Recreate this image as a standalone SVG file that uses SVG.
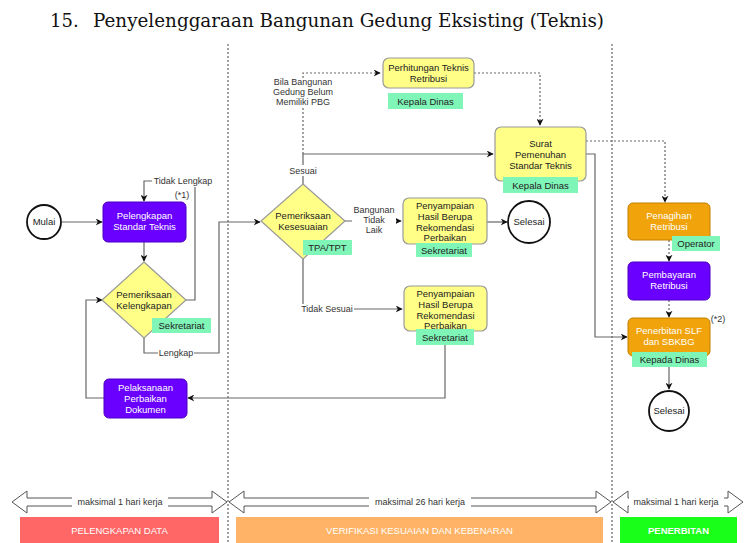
<svg xmlns="http://www.w3.org/2000/svg" width="744" height="543" viewBox="0 0 744 543">
<defs>
<marker id="ah" viewBox="0 0 10 10" refX="9" refY="5" markerWidth="7" markerHeight="7" orient="auto" markerUnits="userSpaceOnUse"><path d="M0,0 L10,5 L0,10 L3,5 Z" fill="#111"/></marker>
<style>
.t{font-family:"Liberation Sans",Arial,sans-serif;font-size:9.5px;text-anchor:middle;fill:#222}
.w{fill:#fff}
.lbl{font-family:"Liberation Sans",Arial,sans-serif;font-size:9px;text-anchor:middle;fill:#333}
.c{fill:none;stroke:#666;stroke-width:1.2}
.d{fill:none;stroke:#666;stroke-width:1.2;stroke-dasharray:2,2}
.sep{fill:none;stroke:#444;stroke-width:1;stroke-dasharray:2,2}
.y{fill:#ffff88;stroke:#999;stroke-width:1.2}
.p{fill:#6a00ff;stroke:#4b00c0;stroke-width:1}
.o{fill:#f0a30a;stroke:#c47f00;stroke-width:1}
.g{fill:#80f5b8}
.circ{fill:#fff;stroke:#111;stroke-width:1.8}
.barr{fill:#fff;stroke:#555;stroke-width:1}
.bt{font-family:"Liberation Sans",Arial,sans-serif;font-size:9.5px;text-anchor:middle;fill:#fff}
.ttl{font-family:"DejaVu Serif","Liberation Serif",serif;font-size:18px;fill:#111}
</style>
</defs>
<rect width="744" height="543" fill="#fff"/>
<text class="ttl" x="50" y="27">15.</text>
<text class="ttl" x="93" y="27" textLength="511" lengthAdjust="spacingAndGlyphs">Penyelenggaraan Bangunan Gedung Eksisting (Teknis)</text>
<g id="separators">
<line class="sep" x1="228" y1="44" x2="228" y2="543"/>
<line class="sep" x1="612" y1="44" x2="612" y2="543"/>
</g>
<g id="connectors">
<line class="c" x1="62" y1="222" x2="102" y2="222" marker-end="url(#ah)"/>
<line class="c" x1="144" y1="242" x2="144" y2="261" marker-end="url(#ah)"/>
<path class="c" d="M186,300 H195 V181 H144 V201" marker-end="url(#ah)"/>
<path class="c" d="M144,338 V353 H219 V222 H260" marker-end="url(#ah)"/>
<path class="c" d="M104,398 H86 V300 H102" marker-end="url(#ah)"/>
<path class="c" d="M303,184 V154 H493" marker-end="url(#ah)"/>
<path class="d" d="M303,154 V73 H380" marker-end="url(#ah)"/>
<path class="d" d="M474,73 H540 V125" marker-end="url(#ah)"/>
<path class="d" d="M586,141 H665 V202" marker-end="url(#ah)"/>
<path class="c" d="M586,154 H595 V337 H627" marker-end="url(#ah)"/>
<line class="c" x1="344" y1="221" x2="401" y2="221" marker-end="url(#ah)"/>
<line class="c" x1="487" y1="222" x2="507" y2="222" marker-end="url(#ah)"/>
<path class="c" d="M303,259 V309 H402" marker-end="url(#ah)"/>
<path class="c" d="M445,345 V398 H188" marker-end="url(#ah)"/>
<line class="d" x1="669" y1="240" x2="669" y2="261" marker-end="url(#ah)"/>
<line class="d" x1="669" y1="300" x2="669" y2="317" marker-end="url(#ah)"/>
<line class="c" x1="669" y1="356" x2="669" y2="389" marker-end="url(#ah)"/>
<rect x="152" y="176" width="62" height="11" fill="#fff"/>
<text class="lbl" x="183" y="184">Tidak Lengkap</text>
<rect x="158" y="348" width="36" height="11" fill="#fff"/>
<text class="lbl" x="176" y="356">Lengkap</text>
<rect x="268" y="78" width="70" height="30" fill="#fff"/>
<text class="lbl" x="303" y="85">Bila Bangunan</text>
<text class="lbl" x="303" y="95">Gedung Belum</text>
<text class="lbl" x="303" y="105">Memiliki PBG</text>
<rect x="288" y="165" width="30" height="11" fill="#fff"/>
<text class="lbl" x="303" y="174">Sesuai</text>
<rect x="352" y="204" width="44" height="31" fill="#fff"/>
<text class="lbl" x="374" y="213">Bangunan</text>
<text class="lbl" x="374" y="223">Tidak</text>
<text class="lbl" x="374" y="233">Laik</text>
<rect x="300" y="304" width="54" height="11" fill="#fff"/>
<text class="lbl" x="327" y="312">Tidak Sesuai</text>
</g>
<g id="mulai"><circle class="circ" cx="44" cy="222" r="17"/><text class="t" x="44" y="225">Mulai</text></g>
<g id="pelengkapan"><rect class="p" x="103" y="202" width="83" height="40" rx="5"/><text class="t w" x="144.5" y="219">Pelengkapan</text><text class="t w" x="144.5" y="230">Standar Teknis</text><text class="lbl" x="182" y="198" fill="#222">(*1)</text></g>
<g id="kelengkapan"><path class="y" d="M144,262 L186,300 L144,338 L102,300 Z"/><text class="t" x="144" y="298">Pemeriksaan</text><text class="t" x="144" y="309">Kelengkapan</text><rect class="g" x="152" y="318" width="59" height="15"/><text class="t" x="181.5" y="329">Sekretariat</text></g>
<g id="perbaikan"><rect class="p" x="104" y="379" width="83" height="39" rx="5"/><text class="t w" x="145.5" y="391">Pelaksanaan</text><text class="t w" x="145.5" y="402">Perbaikan</text><text class="t w" x="145.5" y="413">Dokumen</text></g>
<g id="kesesuaian"><path class="y" d="M303,184 L345,221 L303,259 L261,221 Z"/><text class="t" x="303" y="219">Pemeriksaan</text><text class="t" x="303" y="230">Kesesuaian</text><rect class="g" x="303" y="240" width="49" height="15"/><text class="t" x="327.5" y="251">TPA/TPT</text></g>
<g id="perhitungan"><rect class="y" x="383" y="58" width="91" height="30" rx="6"/><text class="t" x="428.5" y="71">Perhitungan Teknis</text><text class="t" x="428.5" y="82">Retribusi</text><rect class="g" x="388" y="93" width="75" height="16"/><text class="t" x="425.5" y="104.5">Kepala Dinas</text></g>
<g id="surat"><rect class="y" x="495" y="127" width="91" height="54" rx="6"/><text class="t" x="540.5" y="147">Surat</text><text class="t" x="540.5" y="158">Pemenuhan</text><text class="t" x="540.5" y="169">Standar Teknis</text><rect class="g" x="503" y="177" width="75" height="16"/><text class="t" x="540.5" y="188.5">Kepala Dinas</text></g>
<g id="penyampaian1"><rect class="y" x="403" y="198" width="84" height="46" rx="6"/><text class="t" x="445" y="209">Penyampaian</text><text class="t" x="445" y="220">Hasil Berupa</text><text class="t" x="445" y="231">Rekomendasi</text><text class="t" x="445" y="241">Perbaikan</text><rect class="g" x="416" y="243" width="56" height="14"/><text class="t" x="444" y="253.5">Sekretariat</text></g>
<g id="selesai1"><circle class="circ" cx="529" cy="222" r="21"/><text class="t" x="529" y="225">Selesai</text></g>
<g id="penyampaian2"><rect class="y" x="404" y="286" width="83" height="45" rx="6"/><text class="t" x="445.5" y="297">Penyampaian</text><text class="t" x="445.5" y="308">Hasil Berupa</text><text class="t" x="445.5" y="319">Rekomendasi</text><text class="t" x="445.5" y="329">Perbaikan</text><rect class="g" x="416" y="329" width="58" height="16"/><text class="t" x="445" y="340.5">Sekretariat</text></g>
<g id="penagihan"><rect class="o" x="628" y="203" width="82" height="37" rx="5"/><text class="t w" x="669" y="219">Penagihan</text><text class="t w" x="669" y="230">Retribusi</text><rect class="g" x="672" y="236" width="48" height="15"/><text class="t" x="696" y="247">Operator</text></g>
<g id="pembayaran"><rect class="p" x="628" y="262" width="82" height="38" rx="5"/><text class="t w" x="669" y="278">Pembayaran</text><text class="t w" x="669" y="289">Retribusi</text></g>
<g id="penerbitan"><rect class="o" x="628" y="318" width="82" height="38" rx="5"/><text class="t w" x="669" y="334">Penerbitan SLF</text><text class="t w" x="669" y="345">dan SBKBG</text><text class="lbl" x="718" y="322" fill="#222">(*2)</text><rect class="g" x="632" y="352" width="75" height="15"/><text class="t" x="669.5" y="363">Kepada Dinas</text></g>
<g id="selesai2"><circle class="circ" cx="669" cy="411" r="20"/><text class="t" x="669" y="414">Selesai</text></g>
<g id="durations">
<path class="barr" d="M12,502 L27,491 L27,498 L212,498 L212,491 L227,502 L212,513 L212,506 L27,506 L27,513 Z"/>
<rect x="72" y="497" width="96" height="10" fill="#fff"/>
<text class="lbl" x="120" y="505">maksimal 1 hari kerja</text>
<path class="barr" d="M229,502 L244,491 L244,498 L596,498 L596,491 L611,502 L596,513 L596,506 L244,506 L244,513 Z"/>
<rect x="369" y="497" width="102" height="10" fill="#fff"/>
<text class="lbl" x="420" y="505">maksimal 26 hari kerja</text>
<path class="barr" d="M613,502 L628,491 L628,498 L728,498 L728,491 L743,502 L728,513 L728,506 L628,506 L628,513 Z"/>
<rect x="629" y="497" width="95" height="10" fill="#fff"/>
<text class="lbl" x="676" y="505">maksimal 1 hari kerja</text>
</g>
<g id="phases">
<rect x="20" y="517" width="199" height="26" fill="#ff6666"/>
<text class="bt" x="119.5" y="534">PELENGKAPAN DATA</text>
<rect x="236" y="517" width="367" height="26" fill="#ffb366"/>
<text class="bt" x="419.5" y="534">VERIFIKASI KESUAIAN DAN KEBENARAN</text>
<rect x="620" y="517" width="117" height="26" fill="#19ff19"/>
<text class="bt" x="678.5" y="534" font-weight="bold">PENERBITAN</text>
</g>
</svg>
